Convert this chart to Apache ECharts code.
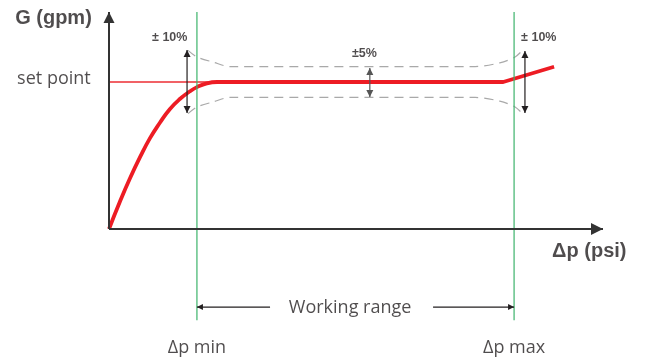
<!DOCTYPE html>
<html style="height: 100%">
<head>
	<meta charset="utf-8">
	<title></title>
</head>
<body style="height: 100%; margin: 0; background: #fff">
<div id="container" style="width: 645px; height: 360px"></div>

<script type="text/javascript" src="https://cdn.jsdelivr.net/npm/echarts@6/dist/echarts.min.js"></script>
<script type="text/javascript">
	// flow curve (Δp, G) - set point = 100
	var riseDp = [0, 2.2, 4.25, 6.3, 8.3, 10.3, 12.3, 14.4, 16.4, 17.8, 19.8, 21.9, 26];
	var riseG = [0, 18.5, 34.5, 49, 61.8, 72.3, 81.5, 88.6, 93.7, 96.5, 99.1, 100, 100];
	var flatDp = [21.9, 79.8, 90.1];
	var flatG = [100, 100, 110.4];
	var setPoint = 100;
	var dpMin = 17.8;
	var dpMax = 82;
	// tolerance band (dashed), deviation from set point
	var bandDp = [16, 17.8, 21, 24.5, 74.1, 79.1, 82.2, 83.8];
	var bandDev = [21.5, 17, 13.6, 10.5, 10.5, 13, 17, 21.8];
	// double arrows: [Δp, low, high]
	var tolArrows = [[15.8, 78.9, 121.8], [84.2, 78.9, 121.1]];
	var tol5Arrow = [52.8, 89.8, 109.5];
	var workingY = -53.1;
	var workingArrows = [[32.6, dpMin], [65.6, dpMax]];

	var font = '"Open Sans", "Noto Sans", sans-serif';
	var boldFont = '"Liberation Sans", Arial, sans-serif';
	var ink = '#231f20';

	var labels = [
		{ text: 'G (gpm)', at: [-19, 142.9], align: 'left', size: 20, bold: true },
		{ text: 'set point', at: [-18.6, 102], align: 'left', size: 18 },
		{ text: 'Δp (psi)', at: [89.7, -15], align: 'left', size: 20, bold: true },
		{ text: '± 10%', at: [12.3, 130.3], align: 'center', size: 12.5, bold: true },
		{ text: '± 10%', at: [87, 130], align: 'center', size: 12.5, bold: true },
		{ text: '±5%', at: [51.7, 119.4], align: 'center', size: 12.5, bold: true },
		{ text: 'Working range', at: [48.8, -53.7], align: 'center', size: 18 },
		{ text: 'Δp min', at: [dpMin, -80.6], align: 'center', size: 18 },
		{ text: 'Δp max', at: [dpMax, -80.6], align: 'center', size: 18 }
	];

	function pairs(xs, ys) {
		return xs.map(function (x, i) { return [x, ys[i]]; });
	}

	function plainLine(data, color, width, extra) {
		var s = {
			type: 'line',
			data: data,
			symbol: 'none',
			clip: false,
			silent: true,
			lineStyle: { color: color, width: width }
		};
		for (var k in extra) s[k] = extra[k];
		return s;
	}

	function vArrow(a, color) {
		return {
			type: 'line',
			clip: false,
			silent: true,
			lineStyle: { color: color, width: 1.2 },
			itemStyle: { color: color },
			data: [
				{ value: [a[0], a[1]], symbol: 'triangle', symbolSize: [7, 7], symbolRotate: 180, symbolOffset: [0, -3.5] },
				{ value: [a[0], a[2]], symbol: 'triangle', symbolSize: [7, 7], symbolOffset: [0, 3.5] }
			]
		};
	}

	function hArrow(from, to) {
		var left = to < from;
		return {
			type: 'line',
			clip: false,
			silent: true,
			lineStyle: { color: ink, width: 1.2 },
			itemStyle: { color: ink },
			data: [
				{ value: [from, workingY], symbol: 'none' },
				{ value: [to, workingY], symbol: 'triangle', symbolSize: [6, 6], symbolRotate: left ? 90 : -90, symbolOffset: [left ? 3 : -3, 0] }
			]
		};
	}

	var dashed = { color: '#a9a9a9', width: 1.2, type: [9, 6] };
	var series = [];
	series.push(plainLine([[0, setPoint], [21, setPoint]], '#ec2d33', 1.5));
	series.push(plainLine(bandDp.map(function (x, i) { return [x, setPoint + bandDev[i]]; }), '#a9a9a9', 1.2,
		{ smooth: 0.3, lineStyle: dashed }));
	series.push(plainLine(bandDp.map(function (x, i) { return [x, setPoint - bandDev[i]]; }), '#a9a9a9', 1.2,
		{ smooth: 0.3, lineStyle: dashed }));
	series.push(plainLine(pairs(riseDp, riseG), '#ed1c24', 3.8, { smooth: 0.5 }));
	series.push(plainLine(pairs(flatDp, flatG), '#ed1c24', 3.8));
	series.push(plainLine([[dpMin, -62], [dpMin, 147.6]], '#3db36b', 1.2));
	series.push(plainLine([[dpMax, -62], [dpMax, 147.6]], '#3db36b', 1.2));
	tolArrows.forEach(function (a) { series.push(vArrow(a, ink)); });
	series.push(vArrow(tol5Arrow, '#555'));
	workingArrows.forEach(function (a) { series.push(hArrow(a[0], a[1])); });
	// axes with arrow heads
	series.push({
		type: 'line', clip: false, silent: true,
		lineStyle: { color: '#333', width: 2 }, itemStyle: { color: '#333' },
		data: [{ value: [0, 0], symbol: 'none' },
			{ value: [0, 147.6], symbol: 'triangle', symbolSize: [11, 11], symbolOffset: [0, 5.5] }]
	});
	series.push({
		type: 'line', clip: false, silent: true,
		lineStyle: { color: '#333', width: 2 }, itemStyle: { color: '#333' },
		data: [{ value: [0, 0], symbol: 'none' },
			{ value: [100, 0], symbol: 'triangle', symbolSize: [12, 12], symbolRotate: -90, symbolOffset: [-6, 0] }]
	});
	// text labels
	series.push({
		type: 'scatter',
		clip: false,
		silent: true,
		symbolSize: 0,
		data: labels.map(function (l) {
			return {
				value: l.at,
				label: {
					show: true,
					position: 'inside',
					formatter: l.text,
					align: l.align,
					verticalAlign: 'middle',
					fontSize: l.size,
					fontWeight: l.bold ? 'bold' : 'normal',
					fontFamily: l.bold ? boldFont : font,
					color: ink
				}
			};
		})
	});

	var myChart = echarts.init(document.getElementById('container'), null, { renderer: 'canvas' });
	myChart.setOption({
		animation: false,
		backgroundColor: '#fff',
		grid: { left: 109, right: 42, top: 8.5, bottom: 39.86 },
		xAxis: { type: 'value', min: 0, max: 100, show: false },
		yAxis: { type: 'value', min: -62, max: 150, show: false },
		series: series
	});
</script>
</body>
</html>
